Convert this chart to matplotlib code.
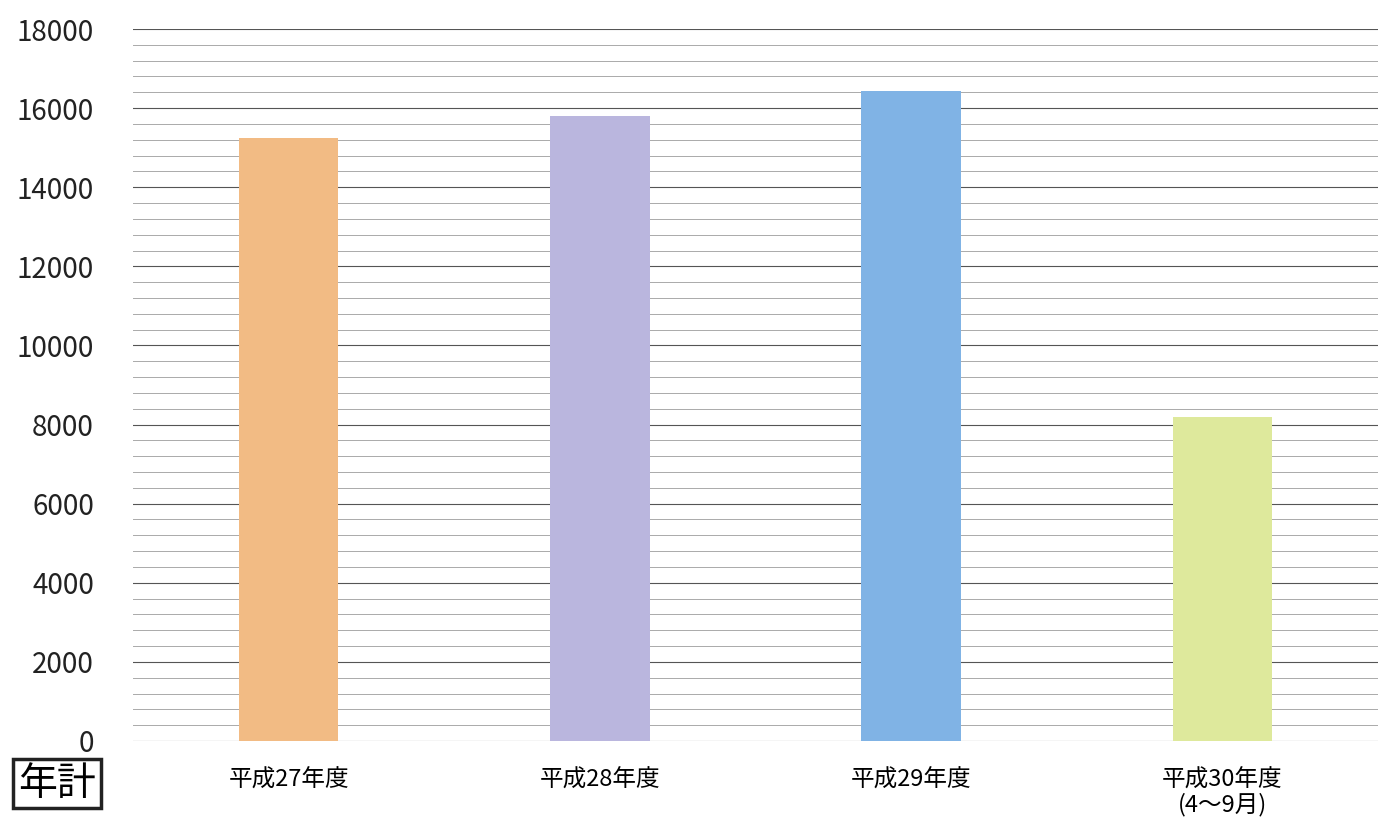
import numpy as np
import matplotlib.pyplot as plt
from matplotlib.ticker import MultipleLocator

plt.rcParams['font.family'] = ['Noto Sans CJK JP', 'DejaVu Sans']

# Data
categories = ['平成27年度', '平成28年度', '平成29年度', '平成30年度\n(4〜9月)']
values = [15250, 15800, 16430, 8190]
colors = ['#F2BB84', '#BAB6DE', '#80B3E5', '#DEE99C']

fig = plt.figure(figsize=(13.91, 8.32), dpi=100)
ax = fig.add_axes([0.0956, 0.1094, 0.895, 0.8557])

x = np.arange(len(categories))
ax.bar(x, values, width=0.32, color=colors, zorder=3)

ax.set_xlim(-0.5, len(categories) - 0.5)
ax.set_ylim(0, 18000)
ax.yaxis.set_major_locator(MultipleLocator(2000))
ax.yaxis.set_minor_locator(MultipleLocator(400))
ax.grid(axis='y', which='major', color='#555555', linewidth=0.8, zorder=0)
ax.grid(axis='y', which='minor', color='#aaaaaa', linewidth=0.7, zorder=0)

for s in ax.spines.values():
    s.set_visible(False)

ax.set_xticks(x)
ax.set_xticklabels(categories, fontsize=17, linespacing=1.05)
ax.tick_params(axis='x', length=0, pad=20)
ax.tick_params(axis='y', which='both', length=0, pad=28, labelsize=20, labelcolor='#222222')

fig.text(0.041, 0.058, '年計', fontsize=28, ha='center', va='center',
         bbox=dict(boxstyle='square,pad=0.12', facecolor='white', edgecolor='#222222', linewidth=2.5))

fig.savefig('out.png', dpi=100)
